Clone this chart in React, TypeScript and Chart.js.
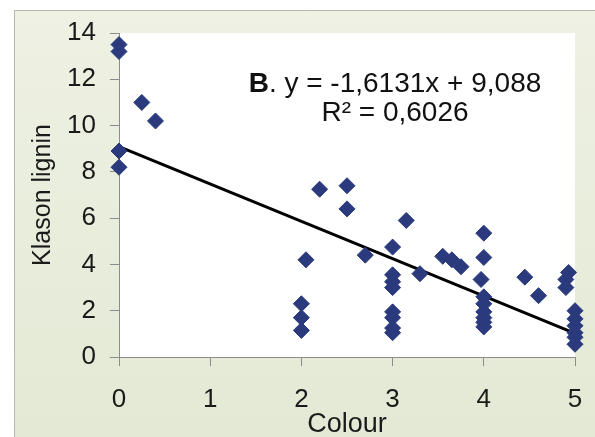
import React, { useEffect, useRef } from "react";
import { Chart, registerables } from "chart.js";

Chart.register(...registerables);

// ---- data ----
const colourValues = [
  0, 0, 0.25, 0.4, 0, 0,
  2.05, 2.2, 2.5, 2.5, 2.7, 3.15, 3.0, 3.0, 3.0, 3.0, 3.3,
  2, 2, 2, 3, 3, 3, 3,
  3.55, 3.65, 3.75, 4, 4, 3.97, 4, 4, 4, 4, 4, 4,
  4.45, 4.6, 4.93, 4.9, 4.9, 5, 5, 5, 5, 5, 5,
];
const ligninValues = [
  13.5, 13.2, 11.0, 10.2, 8.9, 8.2,
  4.2, 7.25, 7.4, 6.4, 4.4, 5.9, 4.75, 3.55, 3.25, 3.0, 3.6,
  2.3, 1.7, 1.15, 1.95, 1.7, 1.25, 1.05,
  4.35, 4.2, 3.9, 5.35, 4.3, 3.35, 2.6, 2.3, 1.95, 1.7, 1.5, 1.3,
  3.45, 2.65, 3.65, 3.35, 3.0, 2.0, 1.65, 1.35, 1.05, 0.85, 0.55,
];
const xTickValues = [0, 1, 2, 3, 4, 5];
const yTickValues = [0, 2, 4, 6, 8, 10, 12, 14];
const trendSlope = -1.6131;
const trendIntercept = 9.088;
const trendRange = [0, 5];
const panelLabel = "B";
const equationLabel = ". y = -1,6131x + 9,088";
const rSquaredLabel = "R² = 0,6026";
const xTitle = "Colour";
const yTitle = "Klason lignin";

const FONT = "'Liberation Sans', Arial, sans-serif";
const W = 595;
const H = 437;

const backgroundPlugin = {
  id: "bgPlugin",
  beforeDraw(chart: any) {
    const { ctx, chartArea } = chart;
    ctx.save();
    ctx.fillStyle = "#ffffff";
    ctx.fillRect(0, 0, W, H);
    const g = ctx.createLinearGradient(0, 10, 0, H);
    g.addColorStop(0, "#eef1e3");
    g.addColorStop(1, "#e4e9d5");
    ctx.fillStyle = g;
    ctx.fillRect(14, 10, W - 14, H - 10);
    ctx.strokeStyle = "#b4b8aa";
    ctx.lineWidth = 1;
    ctx.beginPath();
    ctx.moveTo(14.5, H);
    ctx.lineTo(14.5, 10.5);
    ctx.lineTo(W, 10.5);
    ctx.stroke();
    ctx.fillStyle = "#ffffff";
    ctx.fillRect(
      chartArea.left,
      chartArea.top,
      chartArea.right - chartArea.left,
      chartArea.bottom - chartArea.top
    );
    ctx.restore();
  },
  afterDraw(chart: any) {
    const { ctx } = chart;
    ctx.save();
    ctx.fillStyle = "#111111";
    ctx.textBaseline = "alphabetic";
    const boldFont = `bold 28px ${FONT}`;
    const normFont = `28px ${FONT}`;
    ctx.font = boldFont;
    const wB = ctx.measureText(panelLabel).width;
    ctx.font = normFont;
    const wE = ctx.measureText(equationLabel).width;
    const cx = 395;
    const x0 = cx - (wB + wE) / 2;
    ctx.font = boldFont;
    ctx.textAlign = "left";
    ctx.fillText(panelLabel, x0, 92);
    ctx.font = normFont;
    ctx.fillText(equationLabel, x0 + wB, 92);
    ctx.textAlign = "center";
    ctx.fillText(rSquaredLabel, cx, 121);
    ctx.restore();
  },
};

export default function App() {
  const canvasRef = useRef<HTMLCanvasElement | null>(null);

  useEffect(() => {
    const canvas = canvasRef.current;
    if (!canvas) return;
    const points = colourValues.map((x, i) => ({ x, y: ligninValues[i] }));
    const trend = trendRange.map((x) => ({ x, y: trendSlope * x + trendIntercept }));

    const chart = new Chart(canvas, {
      type: "scatter",
      data: {
        datasets: [
          {
            type: "line",
            data: trend,
            borderColor: "#000000",
            borderWidth: 3,
            pointRadius: 0,
            fill: false,
            clip: false,
            order: 2,
          } as any,
          {
            type: "scatter",
            data: points,
            pointStyle: "rectRot",
            pointRadius: 8,
            pointHoverRadius: 8,
            backgroundColor: "#2a3a7c",
            borderColor: "#2a3a7c",
            borderWidth: 1,
            clip: false,
            order: 1,
          } as any,
        ],
      },
      options: {
        animation: false,
        responsive: false,
        maintainAspectRatio: false,
        devicePixelRatio: 1,
        layout: { autoPadding: false, padding: { left: 14, top: 33, right: 20, bottom: 0 } },
        plugins: {
          legend: { display: false },
          tooltip: { enabled: false },
        },
        scales: {
          x: {
            type: "linear",
            min: 0,
            max: 5,
            afterFit(scale: any) {
              scale.height = 80;
              scale.paddingLeft = 0;
              scale.paddingRight = 0;
            },
            afterBuildTicks(scale: any) {
              scale.ticks = xTickValues.map((v) => ({ value: v }));
            },
            grid: {
              display: true,
              drawOnChartArea: false,
              drawTicks: true,
              tickLength: 9,
              color: "#8c8c8c",
            },
            border: { display: true, color: "#8c8c8c", width: 1 },
            ticks: {
              padding: 18,
              color: "#1a1a1a",
              font: { family: FONT, size: 26 },
              maxRotation: 0,
            },
            title: {
              display: true,
              text: xTitle,
              color: "#1a1a1a",
              font: { family: FONT, size: 27, lineHeight: 1 },
              padding: { top: 0, bottom: -1 },
            },
          },
          y: {
            type: "linear",
            min: 0,
            max: 14,
            afterFit(scale: any) {
              scale.width = 105;
            },
            afterBuildTicks(scale: any) {
              scale.ticks = yTickValues.map((v) => ({ value: v }));
            },
            grid: {
              display: true,
              drawOnChartArea: false,
              drawTicks: true,
              tickLength: 9,
              color: "#8c8c8c",
            },
            border: { display: true, color: "#8c8c8c", width: 1 },
            ticks: {
              padding: 14,
              color: "#1a1a1a",
              font: { family: FONT, size: 26 },
            },
            title: {
              display: true,
              text: yTitle,
              color: "#1a1a1a",
              font: { family: FONT, size: 25, lineHeight: 1 },
              padding: { top: 17, bottom: 0 },
            },
          },
        },
      },
      plugins: [backgroundPlugin],
    });
    return () => chart.destroy();
  }, []);

  return (
    <div style={{ position: "fixed", left: 0, top: 0, width: W, height: H }}>
      <canvas ref={canvasRef} width={W} height={H} style={{ width: W, height: H }} />
    </div>
  );
}
